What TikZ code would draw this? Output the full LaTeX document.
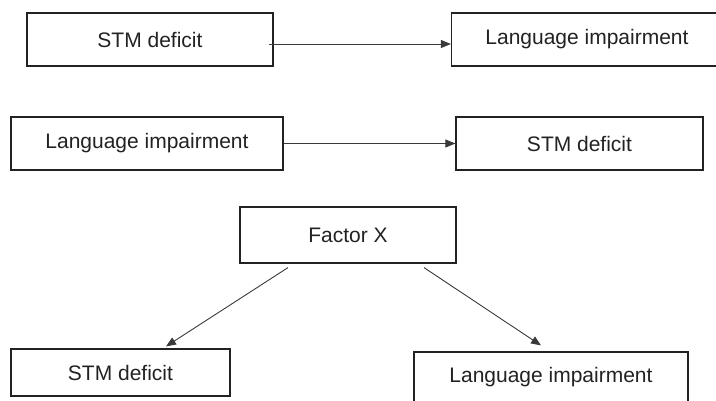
\documentclass[tikz,border=0pt]{standalone}
\usepackage{fontspec}
\setmainfont{Liberation Sans}
\usetikzlibrary{arrows.meta}
\definecolor{ink}{HTML}{222222}
\definecolor{wire}{HTML}{3A3A3A}
\begin{document}
\begin{tikzpicture}[x=1pt,y=-1pt,
  box/.style={draw=ink,line width=1.2pt,text=ink,inner sep=0pt,
    font=\fontsize{21pt}{25pt}\selectfont},
  arr/.style={draw=wire,line width=0.9pt,-{Triangle[length=10pt,width=8pt]}}]
\useasboundingbox (0,0) rectangle (716,400);
\clip (0,0) rectangle (716,400);
% first hypothesis: STM deficit causes language impairment
\node[box,minimum width=246pt,minimum height=53pt] (b1) at (150,39.5) {STM deficit};
\node[box,minimum width=271pt,minimum height=53pt] (b2) at (587,39.5) {Language impairment};
% second hypothesis: the reverse direction
\node[box,minimum width=272pt,minimum height=53pt] (b3) at (147,143.5) {Language impairment};
\node[box,minimum width=247pt,minimum height=53pt] (b4) at (579.5,143.5) {STM deficit};
% third hypothesis: a common cause
\node[box,minimum width=216pt,minimum height=56pt] (b5) at (348,235) {Factor X};
\node[box,minimum width=219pt,minimum height=47pt] (b6) at (120.5,372.5) {STM deficit};
\node[box,minimum width=274pt,minimum height=50pt] (b7) at (551,377) {Language impairment};
% connectors
\draw[arr] ([shift={(-5pt,-4.5pt)}]b1.east) -- ([yshift=-4.5pt]b2.west);
\draw[arr] (b3.east) -- (b4.west);
\draw[arr] ([shift={(-60pt,-4pt)}]b5.south) -- ([shift={(45.5pt,2pt)}]b6.north);
\draw[arr] ([shift={(76pt,-4pt)}]b5.south) -- ([shift={(-10pt,6pt)}]b7.north);
\end{tikzpicture}
\end{document}
